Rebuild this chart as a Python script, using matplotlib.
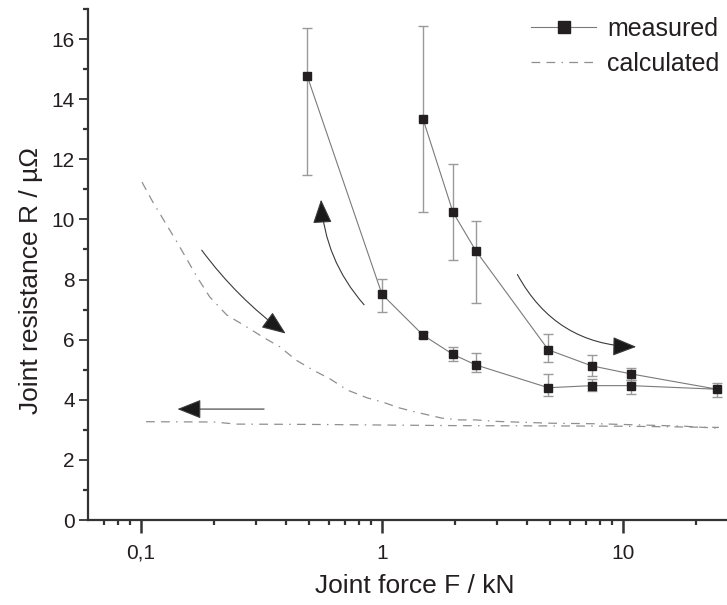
import matplotlib
matplotlib.use("Agg")
import matplotlib.pyplot as plt
from matplotlib import font_manager
from matplotlib.patches import FancyArrowPatch
from matplotlib.ticker import FixedLocator, FixedFormatter, LogLocator, NullFormatter, MultipleLocator
import numpy as np

# ---------------- data ----------------
# measured: loading branch (increasing force)
F_load = [0.49, 1.0, 1.48, 1.97, 2.45, 4.9, 7.4, 10.8, 24.6]
R_load = [14.76, 7.51, 6.15, 5.51, 5.16, 4.40, 4.47, 4.47, 4.35]
R_load_up = [16.36, 8.02, 6.25, 5.75, 5.55, 4.85, 4.69, 4.66, 4.57]
R_load_lo = [11.48, 6.93, 6.05, 5.30, 4.91, 4.13, 4.29, 4.18, 4.10]
# measured: unloading branch (decreasing force)
F_unload = [10.8, 7.4, 4.9, 2.45, 1.97, 1.48]
R_unload = [4.86, 5.13, 5.66, 8.96, 10.24, 13.34]
R_unload_up = [5.05, 5.49, 6.18, 9.95, 11.84, 16.43]
R_unload_lo = [4.66, 4.80, 5.27, 7.21, 8.65, 10.24]

# calculated curves
F_calc1 = [0.101, 0.112, 0.141, 0.171, 0.193, 0.227, 0.275, 0.32, 0.377, 0.44,
           0.517, 0.61, 0.72, 0.87, 1.0, 1.18, 1.38, 1.77, 2.1, 2.45, 3.0, 5.0,
           8.0, 12.0, 18.0, 25.0]
R_calc1 = [11.24, 10.58, 9.25, 8.08, 7.42, 6.82, 6.42, 6.09, 5.76, 5.32,
           4.99, 4.69, 4.32, 4.06, 3.93, 3.73, 3.59, 3.39, 3.33, 3.33, 3.28, 3.22,
           3.20, 3.16, 3.12, 3.05]
F_calc2 = [0.105, 0.2, 0.25, 0.5, 1.0, 2.0, 5.0, 10.0, 25.0]
R_calc2 = [3.27, 3.26, 3.19, 3.18, 3.16, 3.14, 3.13, 3.12, 3.08]

xticks = [0.1, 1, 10]
xticklabels = ["0,1", "1", "10"]
yticks = [0, 2, 4, 6, 8, 10, 12, 14, 16]

# ---------------- fonts ----------------
avail = {f.name for f in font_manager.fontManager.ttflist}
fam = "DejaVu Sans"
for cand in ["Liberation Sans Narrow", "Arial Narrow", "Liberation Sans"]:
    if cand in avail:
        fam = cand
        break
plt.rcParams["font.family"] = [fam, "DejaVu Sans"]

txt_col = "#231f20"
spine_col = "#333333"

fig = plt.figure(figsize=(7.27, 6.05), dpi=100)
ax = fig.add_axes([88 / 727, 1 - 520 / 605, 1 - 88 / 727, 511 / 605])

# calculated
dash = (0, (7, 5, 7, 5, 1.2, 5))
ax.plot(F_calc1, R_calc1, color="#8f8f8f", lw=0.9, linestyle=dash, zorder=2)
ax.plot(F_calc2, R_calc2, color="#8f8f8f", lw=0.9, linestyle=dash, zorder=2,
        label="calculated")

# measured line connecting both branches
F_all = F_load + F_unload
R_all = R_load + R_unload
ax.plot(F_all, R_all, color="#7a7a7a", lw=0.8, zorder=3)

for F, R, up, lo in [(F_load, R_load, R_load_up, R_load_lo),
                     (F_unload, R_unload, R_unload_up, R_unload_lo)]:
    R = np.array(R); up = np.array(up); lo = np.array(lo)
    ax.errorbar(F, R, yerr=[R - lo, up - R], fmt="none", ecolor="#9a9a9a",
                elinewidth=1.0, capsize=3.8, capthick=1.0, zorder=3)
    ax.plot(F, R, linestyle="none", marker="s", ms=6.3, mfc="#231f20",
            mec="#231f20", zorder=4)

# legend proxy for measured
ax.plot([], [], color="#7a7a7a", lw=0.8, marker="s", ms=6.3, mfc="#231f20",
        mec="#231f20", label="measured")

# arrows
def arrow(p0, p1, rad):
    a = FancyArrowPatch(p0, p1, connectionstyle=f"arc3,rad={rad}",
                        arrowstyle="-|>,head_length=1.25,head_width=0.5",
                        mutation_scale=12, lw=0.8, color="#3a3a3a",
                        zorder=5)
    a.set_facecolor("#1a1a1a")
    ax.add_patch(a)

arrow((0.176, 9.05), (0.407, 6.15), 0.08)
arrow((0.858, 7.09), (0.558, 10.75), -0.18)
arrow((3.6, 8.25), (11.65, 5.76), 0.3)
arrow((0.333, 3.69), (0.138, 3.69), 0.0)

# axes
ax.set_xscale("log")
ax.set_xlim(0.0603, 27.0)
ax.set_ylim(0, 17)
ax.xaxis.set_major_locator(FixedLocator(xticks))
ax.xaxis.set_major_formatter(FixedFormatter(xticklabels))
ax.xaxis.set_minor_locator(LogLocator(base=10, subs=np.arange(2, 10), numticks=20))
ax.xaxis.set_minor_formatter(NullFormatter())
ax.yaxis.set_major_locator(FixedLocator(yticks))
ax.yaxis.set_minor_locator(MultipleLocator(1))

for s in ["top", "right"]:
    ax.spines[s].set_visible(False)
for s in ["left", "bottom"]:
    ax.spines[s].set_linewidth(1.6)
    ax.spines[s].set_color(spine_col)

ax.tick_params(which="major", direction="out", length=6.5, width=1.3,
               color=spine_col, labelsize=15, labelcolor=txt_col, pad=3)
ax.tick_params(which="minor", direction="out", length=3.5, width=1.6,
               color=spine_col)
ax.tick_params(axis="x", which="major", length=9, width=1.8, pad=8)

ax.set_xlabel("Joint force F / kN", fontsize=19, color=txt_col)
ax.set_ylabel("Joint resistance R / µΩ", fontsize=19, color=txt_col)
ax.xaxis.set_label_coords((415 - 88) / 639, -(574 - 520) / 511)
ax.yaxis.set_label_coords(-(88 - 43) / 639, (520 - 281) / 511)

handles, labels = ax.get_legend_handles_labels()
order = [labels.index("measured"), labels.index("calculated")]
leg = ax.legend([handles[i] for i in order], [labels[i] for i in order],
                loc="upper right", bbox_to_anchor=(1.0, 1.0), frameon=False,
                fontsize=18, handlelength=2.6, handletextpad=0.45,
                labelspacing=0.45, borderaxespad=0.0, borderpad=0.3,
                markerscale=1.3, labelcolor=txt_col)

fig.savefig("out.png", dpi=100)
